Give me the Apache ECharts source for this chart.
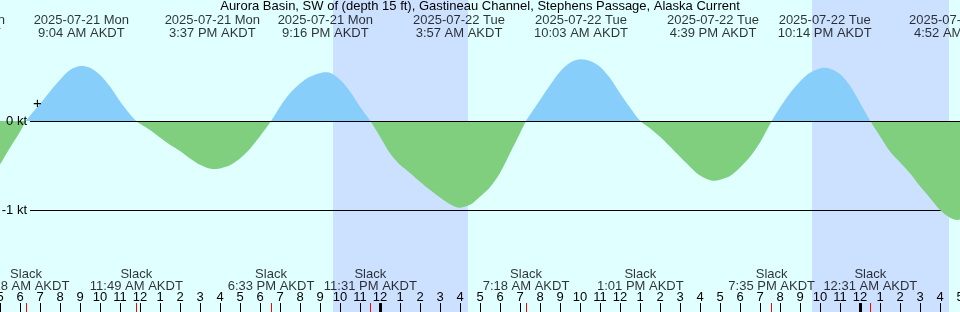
<!DOCTYPE html>
<html>
<head>
<meta charset="utf-8">
<title>Aurora Basin current</title>
<script src="https://cdn.jsdelivr.net/npm/echarts@6/dist/echarts.min.js"></script>
<style>
html, body { margin: 0; padding: 0; background: #e0ffff; }
#chart { width: 960px; height: 312px; }
</style>
</head>
<body>
<div id="chart"></div>
<script>
// hours counted from 2025-07-21 00:00 AKDT, knots
var curveHours = [5, 5.5, 6, 6.3,
    6.5, 7, 7.5, 8, 8.5, 9.067, 9.5, 10, 10.5, 11, 11.5, 11.817,
    12, 12.5, 13, 13.5, 14, 14.5, 15, 15.617, 16, 16.5, 17, 17.5, 18, 18.55,
    19, 19.5, 20, 20.5, 21.267, 21.5, 22, 22.5, 23, 23.517,
    24, 24.5, 25, 25.5, 26, 26.5, 27, 27.5, 27.95, 28.5, 29, 29.5, 30, 30.5, 31, 31.3,
    31.5, 32, 32.5, 33, 33.5, 34.05, 34.5, 35, 35.5, 36, 36.5, 37.017,
    37.5, 38, 38.5, 39, 39.5, 40, 40.65, 41, 41.5, 42, 42.5, 43, 43.583,
    44, 44.5, 45, 45.5, 46.233, 46.5, 47, 47.5, 48, 48.517,
    49, 49.5, 50, 50.5, 51, 51.5, 52, 52.5, 52.867, 53];
var curveKnots = [-0.49, -0.30, -0.12, 0,
    0.06, 0.19, 0.33, 0.46, 0.57, 0.615, 0.595, 0.515, 0.385, 0.22, 0.075, 0,
    -0.03, -0.10, -0.185, -0.265, -0.335, -0.42, -0.49, -0.536, -0.53, -0.495, -0.42, -0.31, -0.17, 0,
    0.16, 0.31, 0.42, 0.495, 0.544, 0.538, 0.46, 0.33, 0.16, 0,
    -0.175, -0.36, -0.49, -0.58, -0.678, -0.77, -0.855, -0.93, -0.968, -0.935, -0.845, -0.74, -0.58, -0.36, -0.138, 0,
    0.07, 0.235, 0.40, 0.55, 0.65, 0.689, 0.67, 0.607, 0.48, 0.31, 0.15, 0,
    -0.08, -0.175, -0.285, -0.40, -0.51, -0.61, -0.667, -0.655, -0.615, -0.52, -0.40, -0.24, 0,
    0.15, 0.31, 0.44, 0.54, 0.596, 0.585, 0.525, 0.395, 0.205, 0,
    -0.17, -0.34, -0.46, -0.585, -0.73, -0.86, -0.994, -1.08, -1.106, -1.10];

var extremeHours = [2.867, 9.067, 15.617, 21.267, 27.95, 34.05, 40.65, 46.233, 52.867];
var extremeDates = ['2025-07-21 Mon', '2025-07-21 Mon', '2025-07-21 Mon', '2025-07-21 Mon',
    '2025-07-22 Tue', '2025-07-22 Tue', '2025-07-22 Tue', '2025-07-22 Tue', '2025-07-23 Wed'];
var extremeTimes = ['2:52 AM AKDT', '9:04 AM AKDT', '3:37 PM AKDT', '9:16 PM AKDT',
    '3:57 AM AKDT', '10:03 AM AKDT', '4:39 PM AKDT', '10:14 PM AKDT', '4:52 AM AKDT'];

var slackHours = [6.3, 11.817, 18.55, 23.517, 31.3, 37.017, 43.583, 48.517];
var slackTimes = ['6:18 AM AKDT', '11:49 AM AKDT', '6:33 PM AKDT', '11:31 PM AKDT',
    '7:18 AM AKDT', '1:01 PM AKDT', '7:35 PM AKDT', '12:31 AM AKDT'];

var nightStart = [21.65, 45.6];
var nightEnd = [28.4, 52.45];
var midnights = [24, 48];

var X_MIN = 5, X_MAX = 53;
var Y_MAX = 1.352, Y_MIN = -2.134;
var TICK = 0.1;
var TOP_LEVEL = 1.056, SLACK_LEVEL = -1.78;
var FONT = 'Liberation Sans';
var FS = 13;
var FLOOD = '#87cefa', EBB = '#7fcf7f';

var chart = echarts.init(document.getElementById('chart'));

var curve = curveHours.map(function (h, i) { return [h, curveKnots[i]]; });
var zeroFrac = Y_MAX / (Y_MAX - Y_MIN);
var chartHeight = 312;

var option = {
    backgroundColor: '#e0ffff',
    animation: false,
    title: {
        text: 'Aurora Basin, SW of (depth 15 ft), Gastineau Channel, Stephens Passage, Alaska Current',
        left: 'center',
        top: 0,
        padding: 0,
        textStyle: { fontFamily: FONT, fontSize: FS, fontWeight: 'normal', color: '#000' }
    },
    grid: { left: 0, right: 0, top: 0, bottom: 0, outerBoundsMode: 'none', containLabel: false },
    xAxis: {
        type: 'value', min: X_MIN, max: X_MAX, interval: 1, z: 10,
        axisLine: { show: false, onZero: false },
        splitLine: { show: false },
        axisTick: { inside: true, length: 9, lineStyle: { color: '#000' } },
        axisLabel: {
            inside: true, margin: 8, fontFamily: FONT, fontSize: FS, color: '#000',
            showMinLabel: true, showMaxLabel: true, hideOverlap: false,
            formatter: function (v) { var h = v % 12; return h === 0 ? '12' : String(h); }
        }
    },
    yAxis: { type: 'value', min: Y_MIN, max: Y_MAX, show: false },
    graphic: [{
        type: 'text', left: 33, top: 96, z: 10,
        style: { text: '+', fontFamily: FONT, fontSize: 15, fill: '#000' }
    }],
    series: [
        {
            // night bands and the -1 kt line under the curve
            type: 'line', data: [], z: 1, silent: true,
            markArea: {
                silent: true, z: 1,
                itemStyle: { color: '#cce0ff' },
                data: nightStart.map(function (s, i) { return [{ xAxis: s }, { xAxis: nightEnd[i] }]; })
            },
            markLine: {
                silent: true, z: 1.5, symbol: 'none',
                lineStyle: { color: '#000', width: 1, type: 'solid' },
                label: { show: true, position: 'start', distance: 3, formatter: '-1 kt',
                    fontFamily: FONT, fontSize: FS, color: '#000' },
                data: [[{ coord: [6.5, -1] }, { coord: [X_MAX, -1] }]]
            }
        },
        {
            name: 'current', type: 'line', data: curve, z: 2,
            smooth: 0.3, showSymbol: false, silent: true,
            lineStyle: { width: 0, opacity: 0 },
            areaStyle: {
                opacity: 1, origin: 0,
                color: new echarts.graphic.LinearGradient(0, 0, 0, chartHeight, [
                    { offset: 0, color: FLOOD }, { offset: zeroFrac, color: FLOOD },
                    { offset: zeroFrac, color: EBB }, { offset: 1, color: EBB }
                ], true)
            }
        },
        {
            // 0 kt line, slack ticks and midnight ticks
            type: 'line', data: [], z: 4, silent: true,
            markLine: {
                silent: true, z: 4, symbol: 'none',
                label: { show: false },
                data: [[{ coord: [6.5, 0], lineStyle: { color: '#000', width: 1, type: 'solid' },
                          label: { show: true, position: 'start', distance: 3, formatter: '0 kt',
                                   fontFamily: FONT, fontSize: FS, color: '#000' } },
                        { coord: [X_MAX, 0] }]]
                    .concat(slackHours.map(function (t) {
                        return [{ coord: [t, Y_MIN], lineStyle: { color: '#ff0000', width: 1, type: 'solid' } },
                                { coord: [t, Y_MIN + TICK] }];
                    }))
                    .concat(midnights.map(function (t) {
                        return [{ coord: [t, Y_MIN], lineStyle: { color: '#000', width: 3, type: 'solid' } },
                                { coord: [t, Y_MIN + TICK] }];
                    }))
            }
        },
        {
            type: 'scatter', z: 5, clip: false, silent: true,
            symbolSize: 1, itemStyle: { color: 'rgba(0,0,0,0)' },
            data: extremeHours.map(function (h, i) {
                return { value: [h, TOP_LEVEL], label: { formatter: extremeDates[i] + '\n' + extremeTimes[i] } };
            }),
            label: { show: true, position: 'inside', fontFamily: FONT, fontSize: FS, lineHeight: 13,
                     color: '#000', align: 'center' }
        },
        {
            type: 'scatter', z: 5, clip: false, silent: true,
            symbolSize: 1, itemStyle: { color: 'rgba(0,0,0,0)' },
            data: slackHours.map(function (h, i) {
                return { value: [h, SLACK_LEVEL], label: { formatter: 'Slack\n' + slackTimes[i] } };
            }),
            label: { show: true, position: 'inside', fontFamily: FONT, fontSize: FS, lineHeight: 12,
                     color: '#000', align: 'center' }
        }
    ]
};

chart.setOption(option);
</script>
</body>
</html>
